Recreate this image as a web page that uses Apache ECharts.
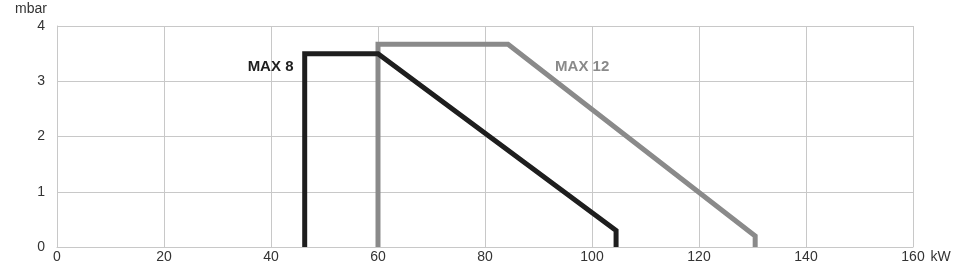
<!DOCTYPE html>
<html><head><meta charset="utf-8">
<script src="https://cdn.jsdelivr.net/npm/echarts@6/dist/echarts.min.js"></script>
<style>html,body{margin:0;padding:0;background:#fff}#c{width:960px;height:270px}</style>
</head><body><div id="c"></div>
<script>
const xTicks = [0, 20, 40, 60, 80, 100, 120, 140, 160];
const yTicks = [0, 1, 2, 3, 4];
const max8 = [[46.3, 0], [46.3, 3.5], [60, 3.5], [104.5, 0.3], [104.5, 0]];
const max12 = [[60, 0], [60, 3.67], [84.3, 3.67], [130.5, 0.2], [130.5, 0]];
const labels = [
  { name: 'MAX 8', coord: [44.2, 3.26], color: '#1e1e1e', align: 'right' },
  { name: 'MAX 12', coord: [93.1, 3.26], color: '#8a8a8a', align: 'left' }
];
const chart = echarts.init(document.getElementById('c'));
const axisText = { color: '#333', fontSize: 14, fontFamily: 'Liberation Sans, Arial, sans-serif' };
chart.setOption({
  animation: false,
  grid: { left: 57, right: 47, top: 26, bottom: 23 },
  xAxis: {
    type: 'value', min: xTicks[0], max: xTicks[xTicks.length - 1], interval: 20,
    name: 'kW', nameLocation: 'end', nameGap: 16,
    nameTextStyle: Object.assign({}, axisText, { verticalAlign: 'top', padding: [3, 0, 0, 0] }),
    axisLine: { show: true, lineStyle: { color: '#c8c8c8', width: 1 } },
    axisTick: { show: false },
    axisLabel: Object.assign({}, axisText, { margin: 3 }),
    splitLine: { show: true, lineStyle: { color: '#c8c8c8', width: 1 } }
  },
  yAxis: {
    type: 'value', min: yTicks[0], max: yTicks[yTicks.length - 1], interval: 1,
    name: 'mbar', nameLocation: 'end', nameGap: 10,
    nameTextStyle: Object.assign({}, axisText, { align: 'right', padding: [0, 10, 0, 0] }),
    axisLine: { show: true, lineStyle: { color: '#c8c8c8', width: 1 } },
    axisTick: { show: false },
    axisLabel: Object.assign({}, axisText, { margin: 12 }),
    splitLine: { show: true, lineStyle: { color: '#c8c8c8', width: 1 } }
  },
  series: [
    {
      type: 'line', data: max12, symbol: 'none',
      lineStyle: { color: '#8a8a8a', width: 5, join: 'miter' },
      markPoint: {
        symbol: 'circle', symbolSize: 0,
        data: [{ coord: labels[1].coord, value: labels[1].name }],
        label: { show: true, formatter: labels[1].name, color: labels[1].color, fontSize: 15, fontWeight: 'bold', fontFamily: 'Liberation Sans, Arial, sans-serif', align: labels[1].align, position: 'inside' }
      }
    },
    {
      type: 'line', data: max8, symbol: 'none',
      lineStyle: { color: '#1e1e1e', width: 5, join: 'miter' },
      markPoint: {
        symbol: 'circle', symbolSize: 0,
        data: [{ coord: labels[0].coord, value: labels[0].name }],
        label: { show: true, formatter: labels[0].name, color: labels[0].color, fontSize: 15, fontWeight: 'bold', fontFamily: 'Liberation Sans, Arial, sans-serif', align: labels[0].align, position: 'inside' }
      }
    }
  ]
});
</script></body></html>
